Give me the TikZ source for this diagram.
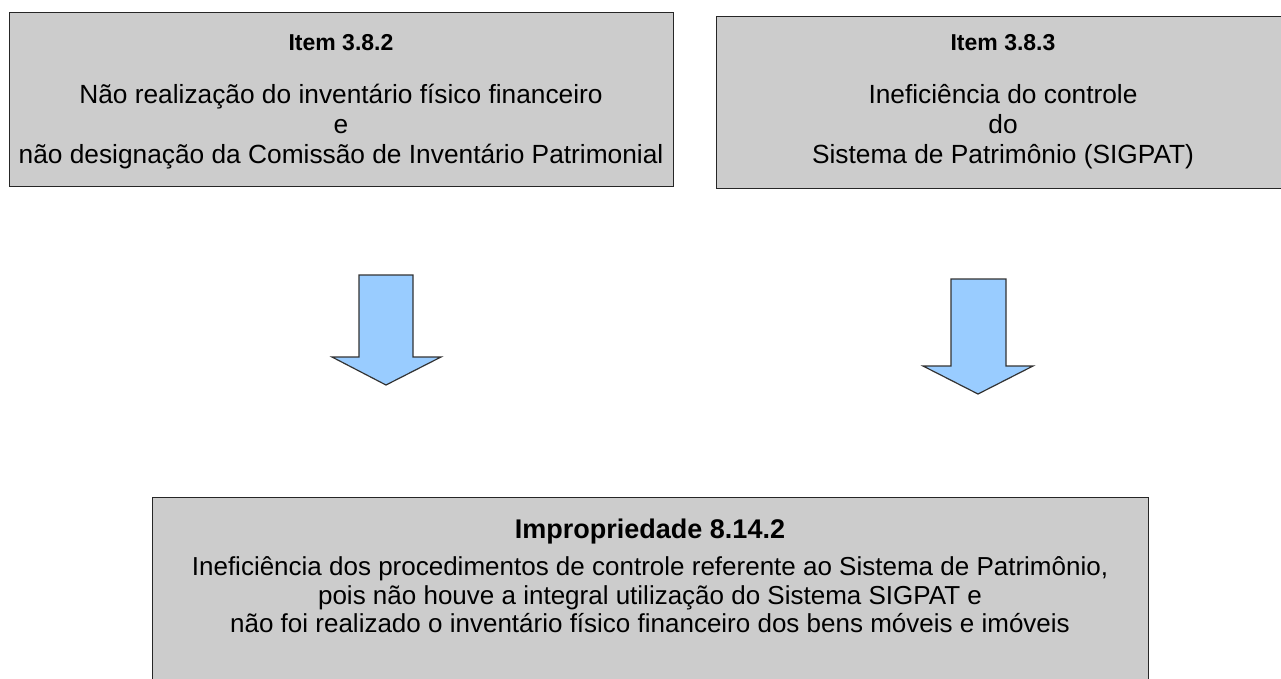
\documentclass[tikz,border=0pt]{standalone}
\usepackage{fontspec}
\setmainfont{Liberation Sans}
\definecolor{boxgray}{HTML}{CCCCCC}
\definecolor{arrowblue}{HTML}{99CCFF}
\begin{document}
\begin{tikzpicture}[x=1pt,y=-1pt,
  graybox/.style={draw=black!85, line width=1.2pt, fill=boxgray},
  bluearrow/.style={draw=black!80, line width=1.2pt, fill=arrowblue, line join=miter},
  bodytext/.style={align=center, inner sep=0pt, font=\fontsize{26.3}{30}\selectfont},
  titletext/.style={inner sep=0pt, font=\fontsize{23}{28}\selectfont\bfseries}
]
\useasboundingbox (0,0) rectangle (1281,679);
\fill[white] (0,0) rectangle (1281,679);
% top boxes
\node[graybox, minimum width=664pt, minimum height=174pt, anchor=north west, inner sep=0pt] (b1) at (9,12) {};
\node[graybox, minimum width=574pt, minimum height=172pt, anchor=north west, inner sep=0pt] (b2) at (716,16) {};
\node[titletext] (h1) at (341,43) {Item 3.8.2};
\node[bodytext] (t1) at (341,127) {Não realização do inventário físico financeiro\\ e\\ não designação da Comissão de Inventário Patrimonial};
\node[titletext] (h2) at (1003,43) {Item 3.8.3};
\node[bodytext] (t2) at (1003,127) {Ineficiência do controle\\ do\\ Sistema de Patrimônio (SIGPAT)};
% bottom box
\node[graybox, minimum width=996pt, minimum height=200pt, anchor=north west, inner sep=0pt] (b3) at (152,497) {};
\node[titletext, font=\fontsize{27}{30}\selectfont\bfseries] (h3) at (650,532) {Impropriedade 8.14.2};
\node[bodytext, font=\fontsize{26}{28.5}\selectfont] (t3) at (650,595) {Ineficiência dos procedimentos de controle referente ao Sistema de Patrimônio,\\
pois não houve a integral utilização do Sistema SIGPAT e\\
não foi realizado o inventário físico financeiro dos bens móveis e imóveis};
% arrows
\draw[bluearrow] (359,275) coordinate (a1) -- (413,275) -- (413,357) -- (441,357) -- (386,385) -- (332,357) -- (359,357) -- cycle;
\draw[bluearrow] (951,279) coordinate (a2) -- (1006,279) -- (1006,366) -- (1033,366) -- (978,394) -- (923,366) -- (951,366) -- cycle;
\end{tikzpicture}
\end{document}
